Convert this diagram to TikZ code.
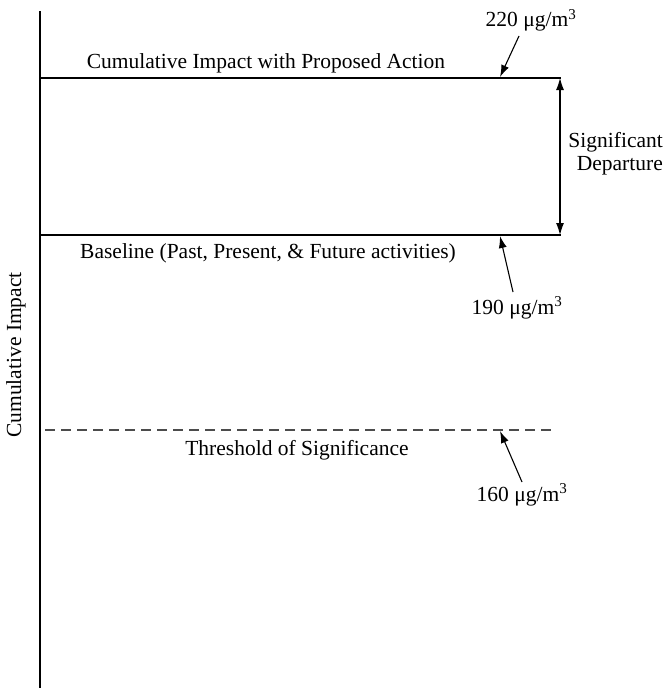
\documentclass[tikz,border=0pt]{standalone}
\usepackage{fontspec}
\setmainfont{Liberation Serif}
\usetikzlibrary{arrows.meta}
\begin{document}
\begin{tikzpicture}[x=1pt,y=-1pt,
  line/.style={line width=1.4pt},
  lbl/.style={font=\fontsize{21.5}{23}\selectfont, inner sep=0pt, anchor=base},
  ptr/.style={line width=1.1pt, -{Latex[length=12pt,width=8pt]}}]
\useasboundingbox (0,0) rectangle (667,688);
% vertical axis
\coordinate (ax0) at (40,11);
\coordinate (ax1) at (40,688);
\draw[line width=1.8pt] (ax0) -- (ax1);
\node[lbl, rotate=90] (ylab) at (21,355) {Cumulative Impact};
% impact levels
\coordinate (topL) at (40,78);
\coordinate (topR) at (561,78);
\coordinate (baseL) at (40,235);
\coordinate (baseR) at (561,235);
\coordinate (thrL) at (45,430);
\coordinate (thrR) at (553,430);
\draw[line] (topL) -- (topR);
\draw[line] (baseL) -- (baseR);
\draw[line width=1.2pt, dash pattern=on 10pt off 6pt, black!70] (thrL) -- (thrR);
% departure span
\coordinate (depT) at (560,78);
\coordinate (depB) at (560,235);
\draw[line width=1.1pt, {Latex[length=12pt,width=8pt]}-{Latex[length=12pt,width=8pt]}] (depT) -- (depB);
\node[lbl, align=right, anchor=base east] (dep) at (663,170) {Significant\\Departure};
% level labels
\node[lbl] (ltop) at (266,68) {Cumulative Impact with Proposed Action};
\node[lbl] (lbase) at (268,258) {Baseline (Past, Present, \& Future activities)};
\node[lbl] (lthr) at (297,455) {Threshold of Significance};
% value callouts
\node[lbl] (v220) at (531,27) {220 μg/m\textsuperscript{3}};
\node[lbl] (v190) at (517,314) {190 μg/m\textsuperscript{3}};
\node[lbl] (v160) at (522,501) {160 μg/m\textsuperscript{3}};
\coordinate (s220) at (519,36);
\coordinate (s190) at (513,292);
\coordinate (s160) at (522,482);
\coordinate (p220) at (500,77);
\coordinate (p190) at (500,236);
\coordinate (p160) at (500,431);
\draw[ptr] (s220) -- (p220);
\draw[ptr] (s190) -- (p190);
\draw[ptr] (s160) -- (p160);
\end{tikzpicture}
\end{document}
